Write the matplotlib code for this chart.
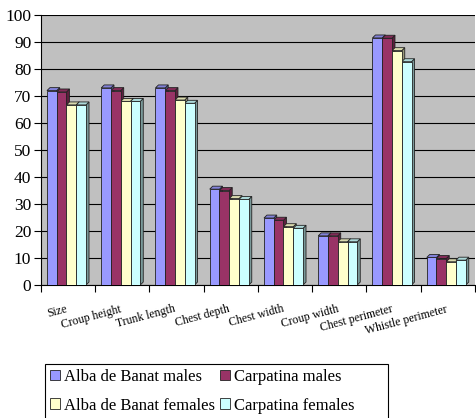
import numpy as np
import matplotlib
matplotlib.use("Agg")
import matplotlib.pyplot as plt
from matplotlib.patches import Polygon, Patch, Rectangle
import matplotlib.colors as mcolors

categories = ["Size", "Croup height", "Trunk length", "Chest depth",
              "Chest width", "Croup width", "Chest perimeter", "Whistle perimeter"]
series_names = ["Alba de Banat males", "Carpatina males",
                "Alba de Banat females", "Carpatina females"]
alba_males = [72.0, 73.0, 73.0, 35.5, 24.8, 18.2, 91.5, 10.2]
carpatina_males = [71.5, 72.0, 72.0, 35.0, 24.0, 18.2, 91.4, 9.8]
alba_females = [66.7, 68.0, 68.5, 32.0, 21.6, 16.0, 86.8, 8.6]
carpatina_females = [66.7, 68.0, 67.3, 31.7, 21.0, 16.0, 82.7, 9.2]
series = [alba_males, carpatina_males, alba_females, carpatina_females]
colors = ["#9999ff", "#993366", "#ffffcc", "#ccffff"]
yticks = list(range(0, 101, 10))

plt.rcParams["font.family"] = ["Liberation Serif", "DejaVu Serif"]

W, H = 477, 418
fig = plt.figure(figsize=(W / 100, H / 100), dpi=100)
ax = fig.add_axes([41 / W, 1 - 285 / H, 434 / W, 270 / H])
ax.set_facecolor("#c0c0c0")

x = np.arange(len(categories))
bw = 0.18
dx = 0.055   # depth offset along x (data units)
dy = 1.1     # depth offset along y (data units)
offsets = (np.arange(4) - 1.5) * bw - 0.03


def shade(c, f):
    r, g, b = mcolors.to_rgb(c)
    return (r * f, g * f, b * f)


for vals, col, off in zip(series, colors, offsets):
    bars = ax.bar(x + off, vals, width=bw, color=col, edgecolor="#222222",
                  linewidth=0.6, zorder=3)
    for rect in bars:
        x0 = rect.get_x()
        x1 = x0 + rect.get_width()
        h = rect.get_height()
        side = Polygon([(x1, 0), (x1 + dx, dy), (x1 + dx, h + dy), (x1, h)],
                       closed=True, facecolor=shade(col, 0.6),
                       edgecolor="#222222", linewidth=0.6, zorder=2.9)
        top = Polygon([(x0, h), (x0 + dx, h + dy), (x1 + dx, h + dy), (x1, h)],
                      closed=True, facecolor=shade(col, 0.85),
                      edgecolor="#222222", linewidth=0.6, zorder=2.9)
        ax.add_patch(side)
        ax.add_patch(top)

ax.set_xlim(-0.5, len(categories) - 0.5)
ax.set_ylim(0, 100)
ax.set_yticks(yticks)
ax.set_yticklabels([str(t) for t in yticks], fontsize=12.5)
ax.yaxis.grid(True, color="black", linewidth=0.8, zorder=1)
ax.set_axisbelow(True)

ax.set_xticks(np.arange(len(categories) + 1) - 0.5)
ax.set_xticklabels([])
ax.tick_params(axis="x", length=5, width=0.8, direction="out")
ax.tick_params(axis="y", length=5, width=0.8, direction="out", pad=2)

for xi, name in zip(x, categories):
    ax.annotate(name, xy=(xi, 0), xycoords="data", xytext=(-2, -13),
                textcoords="offset points", ha="right", va="top",
                rotation=15, rotation_mode="anchor", fontsize=8.5)

for s in ["top", "right"]:
    ax.spines[s].set_visible(False)
ax.spines["left"].set_linewidth(0.8)
ax.spines["bottom"].set_linewidth(0.8)

# legend fills column-first, so interleave to get rows: males / females
order = [0, 2, 1, 3]
handles = [Patch(facecolor=colors[i], edgecolor="#222222", linewidth=0.6)
           for i in order]
labels = [series_names[i] for i in order]
leg = fig.legend(handles, labels, loc="upper left",
                 bbox_to_anchor=(45 / W, 1 - 364 / H), borderaxespad=0,
                 ncol=2, fontsize=12, frameon=False,
                 handlelength=0.6, handleheight=0.6,
                 handletextpad=0.25, columnspacing=0.3, labelspacing=0.75,
                 borderpad=0.3)

# legend box, wider than its entries and running off the bottom edge
fig.patches.append(Rectangle((45 / W, -0.02), (388 - 45) / W, 0.02 + (H - 364) / H,
                             transform=fig.transFigure, fill=False,
                             edgecolor="black", linewidth=0.8))

fig.savefig("out.png", dpi=100)
